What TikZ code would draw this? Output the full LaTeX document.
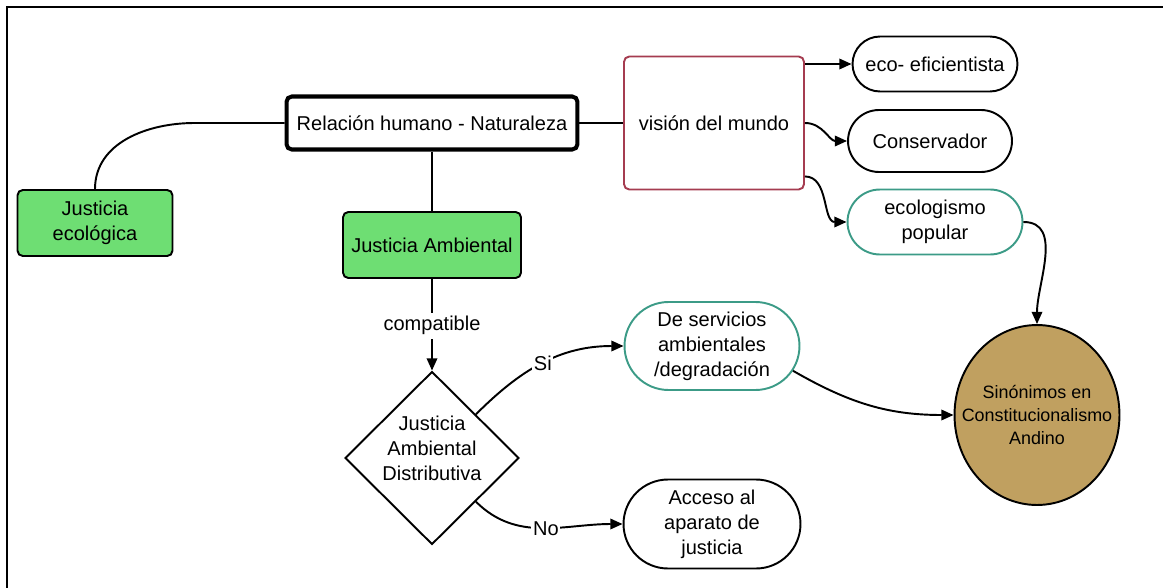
\documentclass[tikz,border=0pt]{standalone}
\usepackage{fontspec}
\setmainfont{Liberation Sans}
\usetikzlibrary{arrows.meta,shapes.geometric,shapes.misc}

\definecolor{leafgreen}{RGB}{110,222,115}
\definecolor{brickred}{RGB}{165,60,80}
\definecolor{seateal}{RGB}{60,155,135}
\definecolor{sandtan}{RGB}{192,160,96}

\tikzset{
  box/.style={draw,line width=1.1pt,rounded corners=3pt,align=center},
  greenbox/.style={box,fill=leafgreen},
  pill/.style={draw,line width=1.1pt,rounded rectangle,align=center,
    inner sep=0pt},
  tealpill/.style={pill,draw=seateal},
  arr/.style={line width=1.1pt,-{Triangle[length=7pt,width=6pt]}},
  link/.style={line width=1.1pt}
}

\begin{document}
\begin{tikzpicture}[x=0.02cm,y=0.02cm,
    font=\fontsize{11.4}{14.2}\selectfont]
  \useasboundingbox (0,0) rectangle (1163,-588);
  \draw [line width=1.6pt] (7,-7) rectangle (1190,-610);

  % upper row
  \node [box,line width=2.3pt,minimum width=5.82cm,minimum height=1.06cm]
    (rel) at (432,-123) {Relación humano - Naturaleza};
  \node [greenbox,minimum width=3.1cm,minimum height=1.32cm]
    (jeco) at (95,-223) {Justicia\\ecológica};
  \node [greenbox,minimum width=3.56cm,minimum height=1.32cm]
    (jamb) at (432,-245) {Justicia Ambiental};
  \node [box,draw=brickred,minimum width=3.6cm,minimum height=2.66cm]
    (vision) at (714,-123) {visión del mundo};

  % right column
  \node [pill,minimum width=3.3cm,minimum height=1.1cm]
    (eco) at (935,-64) {eco- eficientista};
  \node [pill,minimum width=3.28cm,minimum height=1.24cm]
    (cons) at (930,-141) {Conservador};
  \node [tealpill,minimum width=3.5cm,minimum height=1.3cm]
    (ecopop) at (935,-222) {ecologismo\\popular};
  \node [ellipse,draw,line width=1.1pt,fill=sandtan,align=center,
    font=\fontsize{10.2}{13}\selectfont,inner xsep=-10pt,inner ysep=0pt,
    minimum width=3.3cm,minimum height=3.6cm]
    (sino) at (1037,-415) {Sinónimos en\\Constitucionalismo\\Andino};

  % lower part
  \node [diamond,draw,line width=1.1pt,inner sep=0pt,
    minimum width=3.48cm,minimum height=3.46cm,
    label={[align=center,yshift=5.6pt]center:Justicia\\Ambiental\\Distributiva}]
    (dist) at (432,-458) {};
  \node [tealpill,minimum width=3.5cm,minimum height=1.76cm]
    (serv) at (712,-346) {De servicios\\ambientales\\/degradación};
  \node [pill,minimum width=3.54cm,minimum height=1.78cm]
    (acc) at (712,-524) {Acceso al\\aparato de\\justicia};

  % connectors
  \draw [link] (rel.west) -- ++(-90,0) to[out=180,in=90] (jeco.north);
  \draw [link] (rel.south) -- (jamb.north);
  \draw [link] (rel.east) -- (vision.west);

  \draw [arr] (vision.east |- eco.west) -- (eco.west);
  \draw [arr] (vision.east) to[out=0,in=180] (cons.west);
  \draw [arr] (vision.south east) ++(0,14) to[out=0,in=180] (ecopop.west);

  \draw [arr] (jamb.south) -- node[fill=white,inner sep=2pt,pos=0.51] {compatible}
    (dist.north);
  \draw [arr] (dist.north east) to[out=45,in=180]
    node[pos=0.5,fill=white,inner sep=1pt] {Si} (serv.west);
  \draw [arr] (dist.south east) to[out=-45,in=180]
    node[pos=0.52,fill=white,inner sep=1pt] {No} (acc.west);

  \draw [arr] (ecopop.east) to[out=0,in=90] (sino.north);
  \draw [arr] (serv.-17) to[out=-30,in=180] (sino.west);
\end{tikzpicture}
\end{document}
